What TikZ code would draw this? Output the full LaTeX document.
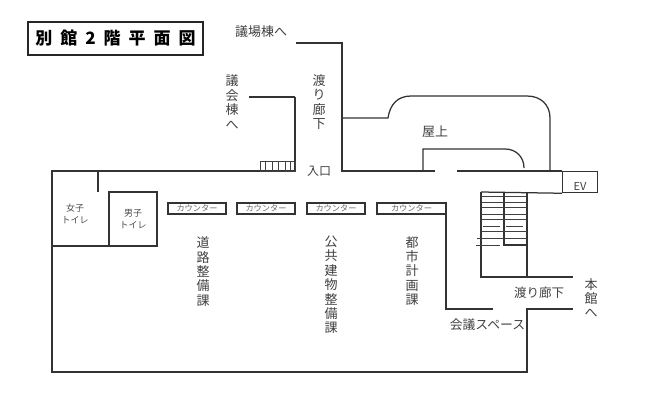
\documentclass[tikz,border=0pt]{standalone}
\usepackage{fontspec}
\setmainfont{Noto Sans CJK JP}
\usetikzlibrary{positioning}

\begin{document}
\begin{tikzpicture}[x=1pt, y=-1pt,
        wall/.style = {draw=black!80, line width=1.25pt},
        thin wall/.style = {draw=black!75, line width=1pt},
        label/.style = {inner sep=0pt, text=black!75, font=\fontsize{13}{14}\selectfont},
        vert/.style = {inner sep=0pt, text=black!75, align=center, font=\fontsize{13}{14.4}\selectfont},
        small/.style = {inner sep=0pt, text=black!70, align=center, font=\fontsize{9}{11.5}\selectfont},
        counter/.style = {draw=black!80, line width=1.25pt, minimum height=11pt, inner sep=0pt, text=black!60, font=\fontsize{8.2}{9}\selectfont}]
                \useasboundingbox (0, 0) rectangle (650, 400);

                \node[draw=black!85, line width=1.7pt, minimum width=175pt, minimum height=33pt, inner sep=0pt, font=\fontsize{17}{18}\selectfont\bfseries] at (115.5, 38.5) (title) {別\hspace{8pt}館\hspace{8pt}2\hspace{8pt}階\hspace{8pt}平\hspace{8pt}面\hspace{8pt}図};

                % outer walls
                \draw[wall] (295, 97) -- (249, 97);
                \draw[wall] (295, 171) -- (295, 97);
                \draw[wall] (296, 43) -- (342, 43) -- (342, 171) -- (435, 171);
                \draw[wall] (457, 171) -- (562, 171);
                \draw[wall] (295, 171) -- (52, 171) -- (52, 372) -- (527, 372) -- (527, 309) -- (573, 309);
                \draw[wall] (493, 309) -- (446, 309) -- (446, 203);

                % roof
                \draw[wall] (342, 118) -- (388, 118) .. controls (390, 104) and (398, 96) .. (411, 96) -- (527, 96) .. controls (541, 96) and (550, 105) .. (550, 118) -- (550, 171);
                \draw[wall] (423, 171) -- (423, 149) -- (505, 149) .. controls (516, 149) and (524, 157) .. (524, 168);

                % EV
                \node[draw=black!80, line width=1.25pt, minimum width=35pt, minimum height=21pt, inner sep=0pt, anchor=north west] at (562, 171) (ev) {};
                \node[label, font=\fontsize{11}{12}\selectfont] at (580, 186) (evtext) {EV};
                \draw[wall] (481, 192) -- (ev.south west);

                % steps at the entrance
                \draw[thin wall] (260, 161) rectangle (295, 171);
                \foreach \x in {265, 272, 278, 285, 290}
                    \draw[thin wall] (\x, 161) -- (\x, 171);

                % toilets
                \draw[wall] (98, 171) -- (98, 192);
                \draw[wall] (52, 246) -- (157, 246) -- (157, 192) -- (109, 192) -- (109, 246);
                \node[small] at (75, 214) (women) {女子\\トイレ};
                \node[small] at (133, 219) (men) {男子\\トイレ};

                % counters
                \node[counter, minimum width=58pt] at (197, 208.5) (counter1) {カウンター};
                \node[counter, minimum width=58pt] at (266, 208.5) (counter2) {カウンター};
                \node[counter, minimum width=58pt] at (336, 208.5) (counter3) {カウンター};
                \node[counter, minimum width=69pt] at (411.5, 208.5) (counter4) {カウンター};

                % stairs
                \draw[wall] (481, 192) -- (481, 277) -- (573, 277);
                \draw[wall] (527, 192) -- (527, 277);
                \draw[wall] (504, 192) -- (504, 245) -- (527, 245);
                \foreach \y in {196, 202, 207, 214, 219, 231}
                    \draw[thin wall] (481, \y) -- (527, \y);
                \draw[thin wall] (483, 226) -- (500, 226);
                \draw[thin wall] (506, 226) -- (523, 226);
                \draw[thin wall] (477, 238) -- (527, 238);
                \draw[thin wall] (476, 245) -- (500, 245);

                % labels
                \node[label] at (261, 32) (giba) {議場棟へ};
                \node[vert] at (232, 102) (gikai) {議\\会\\棟\\へ};
                \node[vert] at (319, 102) (watari1) {渡\\り\\廊\\下};
                \node[label, font=\fontsize{12}{13}\selectfont] at (319, 171.5) (entry) {入口};
                \node[label] at (435, 132) (roof) {屋上};
                \node[vert] at (203, 271.5) (doro) {道\\路\\整\\備\\課};
                \node[vert] at (331, 285) (kokyo) {公\\共\\建\\物\\整\\備\\課};
                \node[vert] at (412, 271) (toshi) {都\\市\\計\\画\\課};
                \node[label, font=\fontsize{12.5}{14}\selectfont] at (539, 293) (watari2) {渡り廊下};
                \node[label, font=\fontsize{12.8}{14}\selectfont] at (487.5, 325) (kaigi) {会議スペース};
                \node[vert] at (591, 298) (honkan) {本\\館\\へ};
\end{tikzpicture}
\end{document}
